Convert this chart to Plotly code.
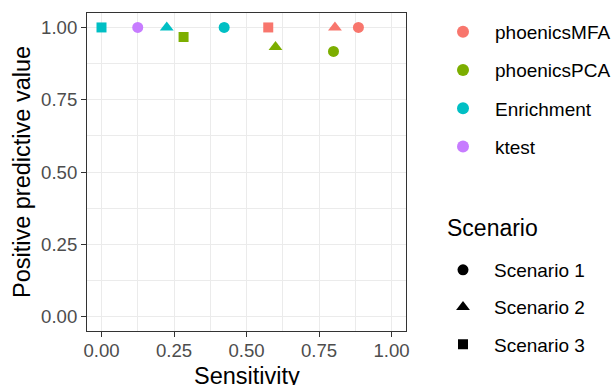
import plotly.graph_objects as go

methods = ["phoenicsMFA", "phoenicsPCA", "Enrichment", "ktest"]
method_colors = ["#F8766D", "#7CAE00", "#00BFC4", "#C77CFF"]
scenarios = ["Scenario 1", "Scenario 2", "Scenario 3"]
scenario_symbols = ["circle", "triangle-up", "square"]
scenario_sizes = [11, 12, 10]

point_method = ["phoenicsMFA", "phoenicsMFA", "phoenicsMFA",
                "phoenicsPCA", "phoenicsPCA", "phoenicsPCA",
                "Enrichment", "Enrichment", "Enrichment",
                "ktest"]
point_scenario = ["Scenario 1", "Scenario 2", "Scenario 3",
                  "Scenario 1", "Scenario 2", "Scenario 3",
                  "Scenario 1", "Scenario 2", "Scenario 3",
                  "Scenario 1"]
sensitivity = [0.886, 0.805, 0.575, 0.800, 0.600, 0.283, 0.423, 0.225, 0.0, 0.125]
ppv = [1.0, 1.0, 1.0, 0.917, 0.932, 0.967, 1.0, 1.0, 1.0, 1.0]

x_ticks = [0, 0.25, 0.5, 0.75, 1.0]
x_ticktext = ["0.00", "0.25", "0.50", "0.75", "1.00"]
y_ticks = [0, 0.25, 0.5, 0.75, 1.0]
y_ticktext = ["0.00", "0.25", "0.50", "0.75", "1.00"]
minor_ticks = [0.125, 0.375, 0.625, 0.875]

FONT = "Liberation Sans, Arial, sans-serif"

fig = go.Figure()

for m, s, xv, yv in zip(point_method, point_scenario, sensitivity, ppv):
    mi = methods.index(m)
    si = scenarios.index(s)
    fig.add_trace(go.Scatter(
        x=[xv], y=[yv], mode="markers",
        marker=dict(color=method_colors[mi], symbol=scenario_symbols[si],
                    size=scenario_sizes[si], line=dict(width=0)),
        showlegend=False, hoverinfo="x+y",
    ))

for m, c in zip(methods, method_colors):
    fig.add_trace(go.Scatter(
        x=[None], y=[None], mode="markers", name=m,
        marker=dict(color=c, symbol="circle", size=12, line=dict(width=0)),
        legend="legend", legendgroup="m_" + m,
    ))

for s, sym, sz in zip(scenarios, scenario_symbols, scenario_sizes):
    fig.add_trace(go.Scatter(
        x=[None], y=[None], mode="markers", name=s,
        marker=dict(color="black", symbol=sym, size=sz, line=dict(width=0)),
        legend="legend2", legendgroup="s_" + s,
    ))

axis_common = dict(
    automargin=False,
    showgrid=True, gridcolor="#EBEBEB", gridwidth=1.1,
    zeroline=False, showline=True, linecolor="#333333", linewidth=1,
    mirror=True, ticks="outside", ticklen=5, tickcolor="#333333", tickwidth=1,
    tickfont=dict(family=FONT, size=18.6, color="#4D4D4D"),
    minor=dict(tickvals=minor_ticks, showgrid=True, gridcolor="#EBEBEB",
               gridwidth=0.6, ticks=""),
)

fig.update_layout(
    width=611, height=385,
    margin=dict(l=87, r=205, t=13, b=54),
    paper_bgcolor="white", plot_bgcolor="white",
    font=dict(family=FONT, color="black"),
    xaxis=dict(range=[-0.05, 1.05], tickvals=x_ticks, ticktext=x_ticktext,
               ticklabelstandoff=-2,
               **axis_common),
    yaxis=dict(range=[-0.05, 1.05], tickvals=y_ticks, ticktext=y_ticktext,
               title=dict(text="Positive predictive value",
                          font=dict(family=FONT, size=23.5, color="black"), standoff=3),
               **axis_common),
    legend=dict(xref="container", yref="container", x=431/611, y=1 - 13/385,
                xanchor="left", yanchor="top", itemwidth=54,
                font=dict(family=FONT, size=19, color="black"),
                tracegroupgap=10.5, bgcolor="rgba(0,0,0,0)", borderwidth=0),
    legend2=dict(xref="container", yref="container", x=432/611, y=1 - 251/385,
                 xanchor="left", yanchor="top", itemwidth=52,
                 font=dict(family=FONT, size=19, color="black"),
                 tracegroupgap=9.5, bgcolor="rgba(0,0,0,0)", borderwidth=0),
    annotations=[
        dict(text="Scenario", xref="paper", yref="paper",
             x=(445 - 87) / 319, y=(331 - 228) / 318,
             xanchor="left", yanchor="middle", showarrow=False,
             font=dict(family=FONT, size=23, color="black")),
        dict(text="Sensitivity", xref="paper", yref="paper",
             x=0.5, y=(331 - 376) / 318,
             xanchor="center", yanchor="middle", showarrow=False,
             font=dict(family=FONT, size=23.5, color="black")),
    ],
)

fig.write_html("out.html")
